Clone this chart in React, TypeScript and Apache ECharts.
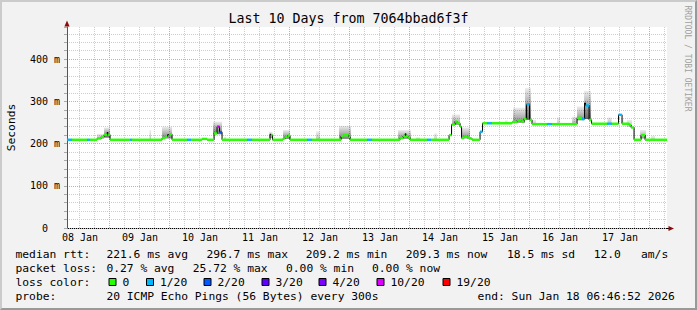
import React, { useEffect, useRef } from 'react';
import * as echarts from 'echarts';

// ---------- texts ----------
const titleText = 'Last 10 Days from 7064bbad6f3f';
const yAxisName = 'Seconds';
const watermark = 'RRDTOOL / TOBI OETIKER';
const dayLabels = ['08 Jan', '09 Jan', '10 Jan', '11 Jan', '12 Jan', '13 Jan', '14 Jan', '15 Jan', '16 Jan', '17 Jan'];
const dayLabelHours = [12, 36, 60, 84, 108, 132, 156, 180, 204, 228];
const lossLabels = ['0', '1/20', '2/20', '3/20', '4/20', '10/20', '19/20'];
const lossColors = ['#26ff00', '#00b8ff', '#0059ff', '#5e00ff', '#7e00ff', '#dd00ff', '#ff0000'];
const rttLabel = 'median rtt:';
const rttStats = ['221.6 ms avg', '296.7 ms max', '209.2 ms min', '209.3 ms now', '18.5 ms sd', '12.0', 'am/s'];
const lossLabel = 'packet loss:';
const lossStats = ['0.27 % avg', '25.72 % max', '0.00 % min', '0.00 % now'];
const lossColorLabel = 'loss color:';
const probeLabel = 'probe:';
const probeText = '20 ICMP Echo Pings (56 Bytes) every 300s';
const endText = 'end: Sun Jan 18 06:46:52 2026';

// ---------- data (x: hours since 08 Jan 00:00, y: ms) ----------
const timeStart = 6.78;
const timeEnd = 246.78;
const yMax = 476;

// [hour, median ms, loss index (-1 = no colour)]
const medianSteps: [number, number, number][] = [
  [6.8, 209, 1], [8.8, 209, 0], [14.8, 209, 1], [16.0, 209, 0],
  [18.8, 212, 0], [20.4, 216, 0], [21.6, 221, 0], [22.8, 226, -1], [23.2, 221, 0], [24.0, 209, 0],
  [32.0, 209, 1], [32.8, 209, 0],
  [44.8, 213, 0], [46.0, 216, 0], [47.0, 221, -1], [47.6, 222, 0], [48.8, 209, 0],
  [54.8, 209, 1], [56.4, 209, 0], [60.8, 211, 0], [62.8, 209, 0],
  [65.6, 224, 0], [66.8, 240, 5], [67.8, 227, 2], [68.8, 209, 0],
  [78.8, 209, 1], [80.8, 209, 0],
  [88.0, 222, -1], [88.4, 220, 0], [89.0, 209, 0],
  [93.2, 212, 0], [94.0, 216, 0], [95.0, 219, 0], [96.0, 209, 0],
  [102.8, 209, 1], [104.8, 209, 0],
  [116.4, 218, 0], [117.2, 220, 0], [119.4, 216, 0], [120.0, 209, 0],
  [126.8, 209, 1], [128.8, 209, 0],
  [140.0, 213, 0], [141.2, 218, 0], [142.0, 223, -1], [142.4, 218, 0], [143.2, 214, 0], [144.0, 209, 0],
  [150.8, 209, 1], [152.4, 209, 0],
  [159.6, 220, 0], [160.6, 245, 0], [162.0, 252, 0], [162.8, 248, 0], [164.0, 240, 0],
  [164.6, 213, 0], [165.6, 216, 0], [166.8, 214, 0], [168.0, 212, 0], [168.8, 209, 0],
  [172.0, 228, 1], [173.0, 248, 0], [174.8, 248, 1], [176.8, 248, 0],
  [184.8, 251, 0], [186.8, 255, 0], [188.4, 252, 0], [189.6, 258, 0], [190.6, 293, 1], [191.8, 256, 0], [192.8, 246, 0],
  [198.8, 246, 1], [200.8, 246, 0],
  [210.8, 261, 0], [212.8, 258, 1], [213.8, 296, -1], [214.2, 290, 1], [215.6, 256, 0], [216.6, 247, 0],
  [222.8, 247, 1], [224.8, 247, 0],
  [227.4, 268, 1], [228.8, 247, 0],
  [231.6, 244, 0], [232.4, 238, 0], [233.6, 209, 0],
  [236.4, 220, 0], [238.0, 209, 0],
];

// smoke: [hour from, hour to, low ms, high ms, darkness]
const smokeBands: [number, number, number, number, number][] = [
  [18.8, 21.6, 211, 223, 0.3], [21.6, 24.0, 214, 238, 0.6], [39.8, 40.4, 210, 232, 0.25],
  [44.8, 48.8, 212, 240, 0.5], [65.2, 68.8, 222, 252, 0.55], [69.6, 70.4, 209, 216, 0.25],
  [87.6, 89.0, 213, 228, 0.4], [93.2, 96.0, 211, 232, 0.5], [106.4, 108.0, 210, 229, 0.25],
  [115.6, 120.4, 211, 242, 0.5], [139.2, 144.4, 211, 232, 0.45], [146.4, 148.0, 209, 215, 0.2],
  [153.6, 154.8, 210, 224, 0.2], [160.8, 164.0, 244, 269, 0.4], [164.4, 168.0, 212, 238, 0.45],
  [182.0, 183.0, 248, 255, 0.2], [185.2, 190.0, 249, 285, 0.45], [190.0, 192.4, 256, 332, 0.6],
  [193.2, 194.4, 247, 256, 0.2], [202.8, 204.0, 247, 262, 0.2], [208.8, 210.8, 247, 264, 0.3],
  [210.8, 213.6, 255, 288, 0.45], [213.6, 216.4, 258, 325, 0.6], [223.0, 224.6, 248, 262, 0.25],
  [228.6, 229.4, 248, 258, 0.2], [230.8, 232.8, 240, 256, 0.25], [236.0, 238.4, 212, 232, 0.4],
  [240.4, 242.0, 209, 218, 0.2],
];

// ---------- layout ----------
const W = 697;
const H = 310;
const GRID_LEFT = 67;
const GRID_RIGHT = 30;
const GRID_TOP = 27;
const GRID_BOTTOM = 82;
const AXIS_Y = H - GRID_BOTTOM;
const PLOT_RIGHT = W - GRID_RIGHT;
const MONO = '"DejaVu Sans Mono", monospace';
const LEG_FONT = `11.3px ${MONO}`;
const ROW_Y = [254, 268, 282, 296];
const COL0_X = 15.5;
const rttX = [106.4, 206.4, 305.8, 405.8, 507, 593.7, 641];
const lossX = [106.4, 192.8, 286, 372];
const boxX = [108.5, 146, 203.5, 261.5, 318.5, 376.5, 442.5];
const probeX = 106.4;
const endX = 477.6;
const MAJOR_GRID = '#eba0a0';
const MINOR_GRID = '#cdcdcd';
const GRID_DASH = [1, 1];
const ARROW = '#8b0a0a';

function txt(text: string, x: number, y: number, extra: any = {}) {
  return {
    type: 'text', x, y, silent: true,
    style: {
      text, font: LEG_FONT, fill: '#000',
      textAlign: 'left', align: 'left', textVerticalAlign: 'middle', verticalAlign: 'middle',
      ...extra,
    },
  };
}

export default function App() {
  const ref = useRef<HTMLDivElement>(null);

  useEffect(() => {
    if (!ref.current) return;
    const chart = echarts.init(ref.current, null, { renderer: 'svg', width: W, height: H });

    const vGrid: number[][] = [];
    for (let h = 6; h < timeEnd; h += 6) {
      if (h > timeStart) vGrid.push([h, h % 24 === 0 ? 1 : 0]);
    }

    const lastV = medianSteps[medianSteps.length - 1][1];
    const blackLine = [...medianSteps.map((s) => [s[0], s[1]]), [timeEnd, lastV]];

    // coloured horizontal pieces of the median: [from, to, ms, loss]
    const colourPieces: number[][] = [];
    medianSteps.forEach((s, i) => {
      if (s[2] < 0) return;
      const x1 = i + 1 < medianSteps.length ? medianSteps[i + 1][0] : timeEnd;
      colourPieces.push([s[0], x1, s[1], s[2]]);
    });

    const splitColors = Array.from({ length: 26 }, (_, i) => (i % 5 === 0 ? MAJOR_GRID : MINOR_GRID));

    const elements: any[] = [];
    elements.push({
      type: 'text', x: 11, y: (GRID_TOP + AXIS_Y) / 2, rotation: Math.PI / 2, silent: true,
      style: { text: yAxisName, font: LEG_FONT, fill: '#000', textAlign: 'center', align: 'center', textVerticalAlign: 'middle', verticalAlign: 'middle' },
    });
    elements.push({
      type: 'text', x: 687.5, y: 58.5, rotation: -Math.PI / 2, silent: true,
      style: { text: watermark, font: `8px ${MONO}`, fill: '#a0a0a0', textAlign: 'center', align: 'center', textVerticalAlign: 'middle', verticalAlign: 'middle' },
    });
    elements.push({
      type: 'polygon', silent: true,
      shape: { points: [[GRID_LEFT - 2.6, GRID_TOP - 0.5], [GRID_LEFT + 2.6, GRID_TOP - 0.5], [GRID_LEFT, GRID_TOP - 6.5]] },
      style: { fill: ARROW },
    });
    elements.push({
      type: 'line', silent: true,
      shape: { x1: GRID_LEFT - 3, y1: AXIS_Y + 0.5, x2: PLOT_RIGHT + 2, y2: AXIS_Y + 0.5 },
      style: { stroke: '#000', lineWidth: 1 },
    });
    elements.push({
      type: 'polygon', silent: true,
      shape: { points: [[PLOT_RIGHT + 1.5, AXIS_Y - 2.1], [PLOT_RIGHT + 1.5, AXIS_Y + 3.1], [PLOT_RIGHT + 7, AXIS_Y + 0.5]] },
      style: { fill: ARROW },
    });
    elements.push(txt(rttLabel, COL0_X, ROW_Y[0]));
    rttStats.forEach((s, i) => elements.push(txt(s, rttX[i], ROW_Y[0])));
    elements.push(txt(lossLabel, COL0_X, ROW_Y[1]));
    lossStats.forEach((s, i) => elements.push(txt(s, lossX[i], ROW_Y[1])));
    elements.push(txt(lossColorLabel, COL0_X, ROW_Y[2]));
    lossLabels.forEach((l, i) => {
      elements.push({
        type: 'rect', silent: true,
        shape: { x: boxX[i] + 0.5, y: ROW_Y[2] - 3.5, width: 7, height: 7 },
        style: { fill: lossColors[i], stroke: '#000', lineWidth: 1 },
      });
      elements.push(txt(l, boxX[i] + 14, ROW_Y[2]));
    });
    elements.push(txt(probeLabel, COL0_X, ROW_Y[3]));
    elements.push(txt(probeText, probeX, ROW_Y[3]));
    elements.push(txt(endText, endX, ROW_Y[3]));

    const option: any = {
      animation: false,
      backgroundColor: 'transparent',
      title: {
        text: titleText, left: 'center', top: 12, padding: 0,
        textStyle: { fontFamily: MONO, fontSize: 13.3, fontWeight: 'normal', color: '#000' },
      },
      grid: {
        left: GRID_LEFT, right: GRID_RIGHT, top: GRID_TOP, bottom: GRID_BOTTOM,
        show: true, backgroundColor: '#ffffff', borderWidth: 0, containLabel: false, outerBoundsMode: 'none',
      },
      xAxis: {
        type: 'value', min: timeStart, max: timeEnd,
        axisLine: { show: false },
        axisTick: { show: false },
        splitLine: { show: false },
        axisLabel: {
          customValues: dayLabelHours,
          formatter: (v: number) => {
            const i = dayLabelHours.indexOf(Math.round(v));
            return i >= 0 ? dayLabels[i] : '';
          },
          fontFamily: MONO, fontSize: 10, color: '#000', margin: 4,
        },
      },
      yAxis: {
        type: 'value', min: 0, max: yMax, interval: 20,
        axisLine: { show: true, lineStyle: { color: '#555', width: 1 } },
        axisTick: { show: true, length: 3, lineStyle: { color: '#aaa' } },
        axisLabel: {
          formatter: (v: number) => (v === 0 ? '{z|0}' : v % 100 === 0 ? `${v} m` : ''),
          fontFamily: MONO, fontSize: 10, color: '#000', margin: 7,
          rich: { z: { fontFamily: MONO, fontSize: 10, color: '#000', padding: [0, 12, 0, 0] } },
        },
        splitLine: { show: true, showMinLine: true, showMaxLine: false, lineStyle: { color: splitColors, type: GRID_DASH, width: 1 } },
      },
      graphic: { elements },
      series: [
        {
          type: 'custom', name: 'vgrid', data: vGrid, z: 1, silent: true, clip: true,
          encode: { x: 0, y: 1 },
          renderItem: (_p: any, api: any) => {
            const h = api.value(0);
            const p0 = api.coord([h, 0]);
            const p1 = api.coord([h, yMax]);
            const x = Math.round(p0[0]) - 0.5;
            return {
              type: 'line',
              shape: { x1: x, y1: p0[1], x2: x, y2: p1[1] },
              style: { stroke: api.value(1) ? MAJOR_GRID : MINOR_GRID, lineWidth: 1, lineDash: GRID_DASH },
            };
          },
        },
        {
          type: 'custom', name: 'smoke', data: smokeBands, z: 2, silent: true, clip: true,
          encode: { x: [0, 1], y: [2, 3] },
          renderItem: (_p: any, api: any) => {
            const a = api.coord([api.value(0), api.value(3)]);
            const b = api.coord([api.value(1), api.value(2)]);
            const d = api.value(4);
            return {
              type: 'rect',
              shape: { x: a[0], y: a[1], width: b[0] - a[0], height: b[1] - a[1] },
              style: {
                fill: new echarts.graphic.LinearGradient(0, 0, 0, 1, [
                  { offset: 0, color: 'rgba(0,0,0,0.07)' },
                  { offset: 1, color: `rgba(0,0,0,${d})` },
                ]),
              },
            };
          },
        },
        {
          type: 'line', name: 'median', data: blackLine, step: 'end', symbol: 'none', showSymbol: false,
          z: 3, silent: true, lineStyle: { color: '#000', width: 1 },
        },
        {
          type: 'custom', name: 'loss', data: colourPieces, z: 4, silent: true, clip: true,
          encode: { x: [0, 1], y: 2 },
          renderItem: (_p: any, api: any) => {
            const v = api.value(2);
            const a = api.coord([api.value(0), v]);
            const b = api.coord([api.value(1), v]);
            return {
              type: 'line',
              shape: { x1: a[0], y1: a[1], x2: b[0], y2: b[1] },
              style: { stroke: lossColors[api.value(3)], lineWidth: 2.4, lineCap: 'butt' },
            };
          },
        },
      ],
    };

    chart.setOption(option);
    return () => chart.dispose();
  }, []);

  return (
    <div
      style={{
        position: 'fixed', left: 0, top: 0, width: W, height: H, boxSizing: 'border-box',
        background: '#f2f2f2',
        borderTop: '2px solid #cbcbcb', borderLeft: '2px solid #cbcbcb',
        borderRight: '2px solid #999999', borderBottom: '2px solid #999999',
      }}
    >
      <div ref={ref} style={{ position: 'absolute', left: -2, top: -2, width: W, height: H }} />
    </div>
  );
}
